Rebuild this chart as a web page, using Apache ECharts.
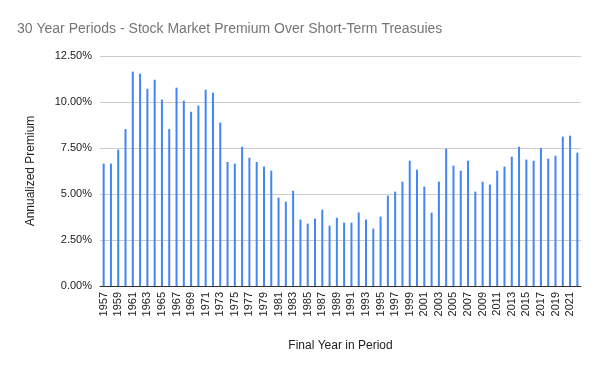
<!DOCTYPE html>
<html>
<head>
<meta charset="utf-8">
<script src="https://cdn.jsdelivr.net/npm/echarts@6/dist/echarts.min.js"></script>
<style>html,body{margin:0;padding:0;background:#fff}#c{width:600px;height:371px}</style>
</head>
<body>
<div id="c"></div>
<script>
const years = [];
for (let y = 1957; y <= 2022; y++) years.push(String(y));
const premium = [
  6.65, 6.65, 7.41, 8.53, 11.65, 11.54, 10.72, 11.21, 10.13, 8.53,
  10.78, 10.07, 9.47, 9.80, 10.67, 10.51, 8.88, 6.74, 6.65, 7.57,
  6.97, 6.74, 6.49, 6.27, 4.80, 4.58, 5.18, 3.61, 3.39, 3.66,
  4.15, 3.28, 3.71, 3.44, 3.44, 3.99, 3.61, 3.12, 3.77, 4.91,
  5.13, 5.67, 6.81, 6.32, 5.40, 3.99, 5.67, 7.46, 6.54, 6.27,
  6.81, 5.13, 5.67, 5.51, 6.27, 6.49, 7.03, 7.57, 6.87, 6.81,
  7.50, 6.92, 7.08, 8.12, 8.17, 7.25
];
const titleText = '30 Year Periods - Stock Market Premium Over Short-Term Treasuies';
const xName = 'Final Year in Period';
const yName = 'Annualized Premium';

const chart = echarts.init(document.getElementById('c'), null, {renderer: 'canvas'});
chart.setOption({
  animation: false,
  backgroundColor: '#fff',
  textStyle: {fontFamily: 'Arial, "Liberation Sans", sans-serif'},
  title: {
    text: titleText, left: 12, top: 17,
    textStyle: {fontSize: 14, fontWeight: 'normal', color: '#757575', fontFamily: 'Arial, "Liberation Sans", sans-serif'}
  },
  grid: {left: 100, right: 19, top: 56, bottom: 85, containLabel: false},
  xAxis: {
    type: 'category', data: years,
    name: xName, nameLocation: 'middle', nameGap: 54,
    nameTextStyle: {fontSize: 12, color: '#222'},
    axisLine: {lineStyle: {color: '#333', width: 1}},
    axisTick: {show: false},
    axisLabel: {rotate: 90, interval: 1, fontSize: 11, color: '#222', margin: 6},
    splitLine: {show: false}
  },
  yAxis: {
    type: 'value', min: 0, max: 12.5, interval: 2.5,
    name: yName, nameLocation: 'middle', nameGap: 63,
    nameTextStyle: {fontSize: 12, color: '#222'},
    axisLine: {show: false}, axisTick: {show: false},
    axisLabel: {fontSize: 11, color: '#222', margin: 8, formatter: v => v.toFixed(2) + '%'},
    splitLine: {lineStyle: {color: '#cccccc', width: 1}}
  },
  series: [{
    type: 'bar', data: premium, barWidth: 2,
    itemStyle: {color: '#4285F4'}
  }]
});
</script>
</body>
</html>
